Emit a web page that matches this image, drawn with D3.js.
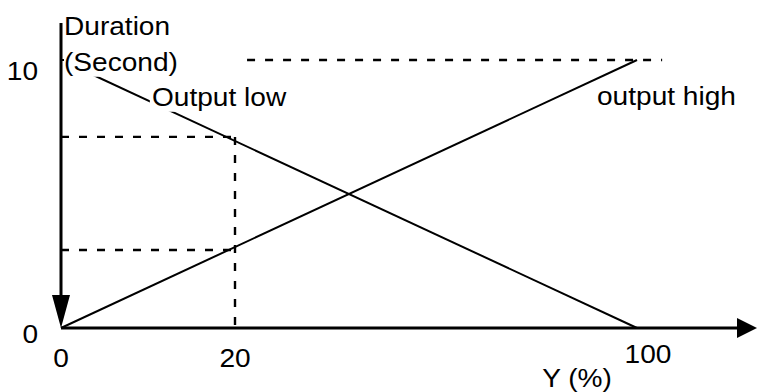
<!DOCTYPE html>
<html>
<head>
<meta charset="utf-8">
<script src="https://cdn.jsdelivr.net/npm/d3@7"></script>
<style>
  body { margin: 0; background: #fff; }
  svg { display: block; }
  text { font-family: "Liberation Sans", Arial, sans-serif; font-size: 26px; fill: #000; }
</style>
</head>
<body>
<div id="chart"></div>
<script>
var width = 757;
var height = 392;

// x positions are schematic in the source (0, 20, 100 not evenly spaced)
var xTicks = [0, 20, 100];
var xTickLabels = ["0", "20", "100"];
var yTicks = [0, 10];
var yTickLabels = ["0", "10"];

var outputLow = [ { x: 0, y: 10 }, { x: 100, y: 0 } ];
var outputHigh = [ { x: 0, y: 0 }, { x: 100, y: 10 } ];

// dashed reading lines at Y = 20%
var readX = 20;
var readLow = 7.13;
var readHigh = 2.91;
var topGuide = [ { x: 22.4, y: 10 }, { x: 105, y: 10 } ];

var x = d3.scaleLinear().domain([0, 20, 100]).range([61, 235, 637]);
var y = d3.scaleLinear().domain([0, 10]).range([328, 60]);

var svg = d3.select("#chart")
	.append("svg")
		.attr("width", width)
		.attr("height", height)
	;

var line = d3.line().x(d => x(d.x)).y(d => y(d.y));

// dashed guides
var guides = [
	[ { x: 0, y: readLow }, { x: readX, y: readLow } ],
	[ { x: 0, y: readHigh }, { x: readX, y: readHigh } ],
	[ { x: readX, y: readLow }, { x: readX, y: 0 } ],
	topGuide
	];

svg.selectAll("path.guide")
	.data(guides)
	.enter()
		.append("path")
			.attr("class", "guide")
			.attr("d", line)
			.attr("fill", "none")
			.attr("stroke", "#000")
			.attr("stroke-width", 2.4)
			.attr("stroke-dasharray", "8,10")
	;

// the two output lines
svg.selectAll("path.series")
	.data([outputLow, outputHigh])
	.enter()
		.append("path")
			.attr("class", "series")
			.attr("d", line)
			.attr("fill", "none")
			.attr("stroke", "#000")
			.attr("stroke-width", 2)
	;

// text helper, glyphs in the source are slightly stretched sideways
function label(tx, ty, str, anchor, boxed)
	{
	var g = svg.append("g")
		.attr("transform", "translate(" + tx + "," + ty + ") scale(1.08,1)");
	var t = g.append("text")
		.attr("text-anchor", anchor || "start")
		.text(str);
	if (boxed)
		{
		var b = t.node().getBBox();
		g.insert("rect", "text")
			.attr("x", b.x - 2)
			.attr("y", b.y)
			.attr("width", b.width + 4)
			.attr("height", b.height)
			.attr("fill", "#fff");
		}
	return g;
	}

label(64, 71, "(Second)", "start", true);
label(152, 106, "Output low", "start", true);

// axes
var x0 = x(0), y0 = y(0);
svg.append("line")
	.attr("x1", x0).attr("y1", 23)
	.attr("x2", x0).attr("y2", y0 - 20)
	.attr("stroke", "#000").attr("stroke-width", 3);
svg.append("path")
	.attr("d", "M" + x0 + "," + y0 + "L" + (x0 - 9) + "," + (y0 - 33) + "L" + (x0 + 9) + "," + (y0 - 33) + "Z")
	.attr("fill", "#000");
svg.append("line")
	.attr("x1", x0).attr("y1", y0)
	.attr("x2", 740).attr("y2", y0)
	.attr("stroke", "#000").attr("stroke-width", 3);
svg.append("path")
	.attr("d", "M757," + y0 + "L737," + (y0 - 10) + "L737," + (y0 + 10) + "Z")
	.attr("fill", "#000");
// small tick at 10
svg.append("line")
	.attr("x1", x0).attr("y1", y(10))
	.attr("x2", x0 + 3).attr("y2", y(10))
	.attr("stroke", "#000").attr("stroke-width", 2);

// tick labels
var xLabelShift = { "0": 0, "20": 0, "100": 11 };
var xLabelBase = { "0": 367, "20": 367, "100": 363 };
xTicks.forEach(function(v, i)
	{
	var s = xTickLabels[i];
	label(x(v) + xLabelShift[s], xLabelBase[s], s, "middle");
	});
yTicks.forEach(function(v, i)
	{
	label(38, y(v) + (v === 0 ? 15 : 20), yTickLabels[i], "end");
	});

label(64, 35, "Duration", "start");
label(597, 105, "output high", "start");
label(577, 387, "Y (%)", "middle");
</script>
</body>
</html>
